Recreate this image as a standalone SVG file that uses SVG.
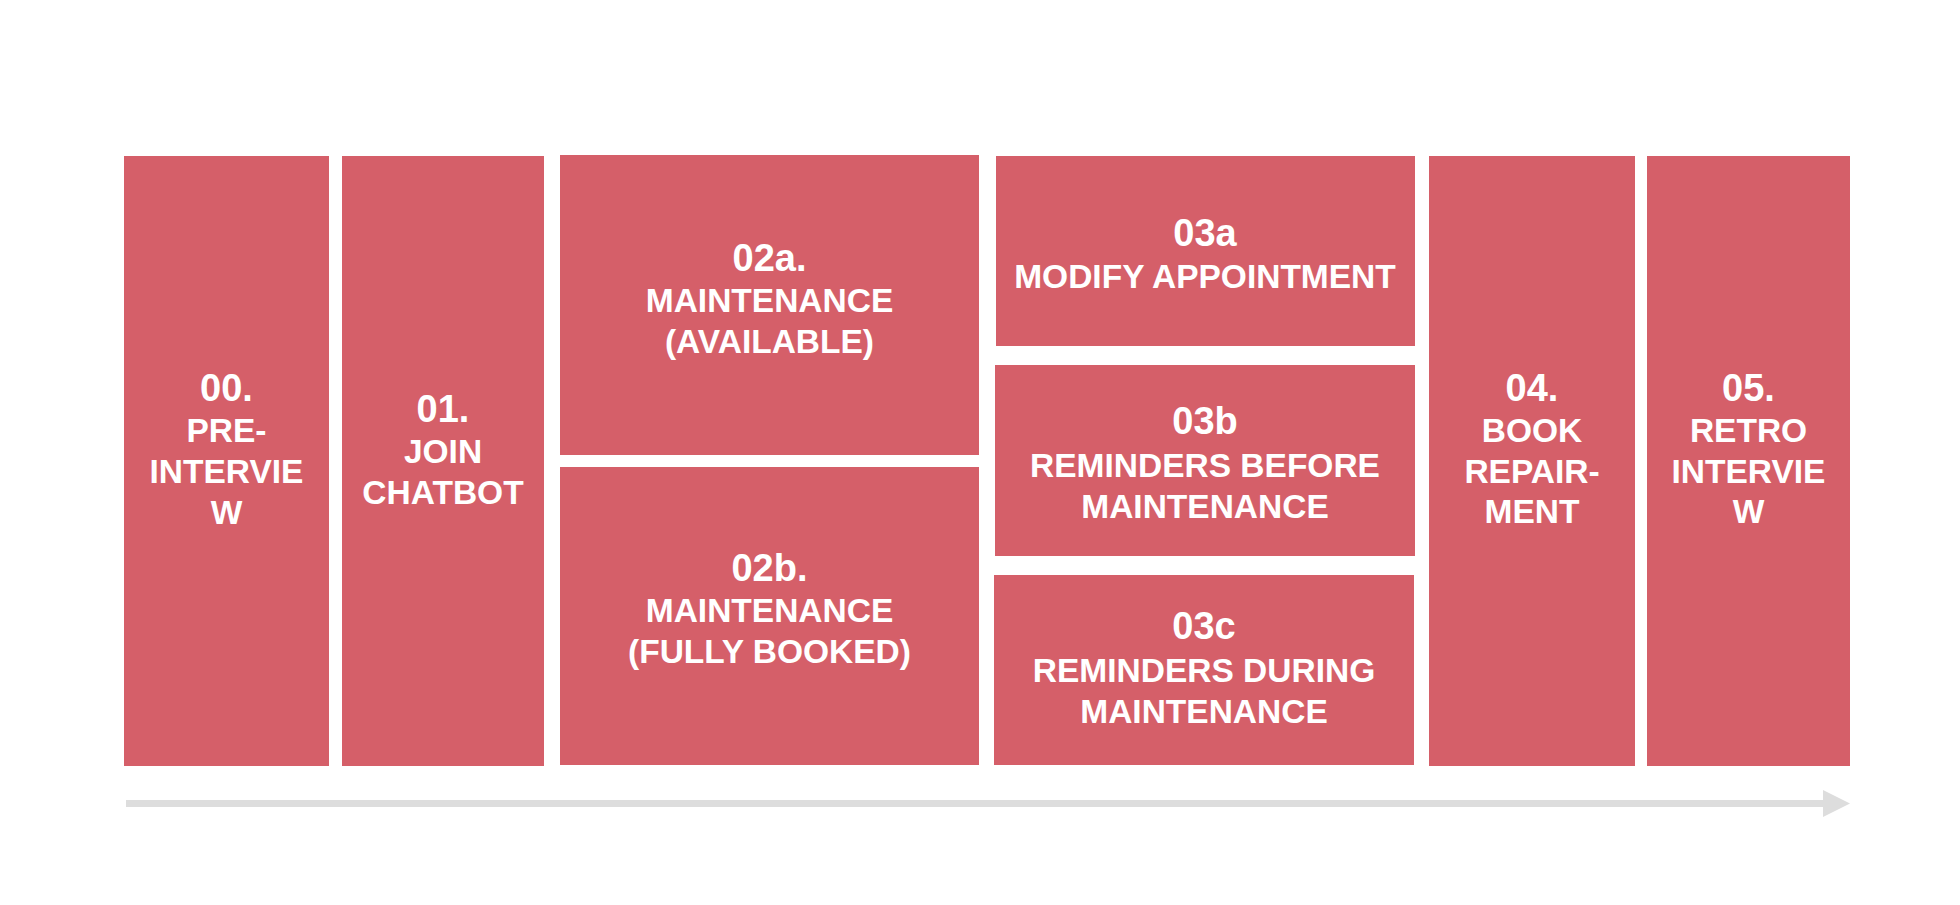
<svg xmlns="http://www.w3.org/2000/svg" width="1960" height="905" viewBox="0 0 1960 905">
<style>
.box{fill:#D55F69}
.num{font-family:"Liberation Sans",Arial,sans-serif;font-weight:bold;font-size:38px;fill:#FFFFFF;text-anchor:middle}
.lbl{font-family:"Liberation Sans",Arial,sans-serif;font-weight:bold;font-size:33.5px;fill:#FFFFFF;text-anchor:middle}
</style>
<rect width="1960" height="905" fill="#FFFFFF"/>
<g id="node-00">
<rect class="box" x="124" y="156" width="205" height="610"/>
<text class="num" x="226.5" y="401">00.</text>
<text class="lbl" x="226.5" y="442">PRE-</text>
<text class="lbl" x="226.5" y="483">INTERVIE</text>
<text class="lbl" x="226.5" y="524">W</text>
</g>
<g id="node-01">
<rect class="box" x="342" y="156" width="202" height="610"/>
<text class="num" x="443" y="422">01.</text>
<text class="lbl" x="443" y="463">JOIN</text>
<text class="lbl" x="443" y="504">CHATBOT</text>
</g>
<g id="node-02a">
<rect class="box" x="560" y="155" width="419" height="300"/>
<text class="num" x="769.5" y="271">02a.</text>
<text class="lbl" x="769.5" y="312">MAINTENANCE</text>
<text class="lbl" x="769.5" y="353">(AVAILABLE)</text>
</g>
<g id="node-02b">
<rect class="box" x="560" y="467" width="419" height="298"/>
<text class="num" x="769.5" y="581">02b.</text>
<text class="lbl" x="769.5" y="622">MAINTENANCE</text>
<text class="lbl" x="769.5" y="663">(FULLY BOOKED)</text>
</g>
<g id="node-03a">
<rect class="box" x="996" y="156" width="419" height="190"/>
<text class="num" x="1205" y="246">03a</text>
<text class="lbl" x="1205" y="288">MODIFY APPOINTMENT</text>
</g>
<g id="node-03b">
<rect class="box" x="995" y="365" width="420" height="191"/>
<text class="num" x="1205" y="434">03b</text>
<text class="lbl" x="1205" y="477">REMINDERS BEFORE</text>
<text class="lbl" x="1205" y="518">MAINTENANCE</text>
</g>
<g id="node-03c">
<rect class="box" x="994" y="575" width="420" height="190"/>
<text class="num" x="1204" y="639">03c</text>
<text class="lbl" x="1204" y="682">REMINDERS DURING</text>
<text class="lbl" x="1204" y="723">MAINTENANCE</text>
</g>
<g id="node-04">
<rect class="box" x="1429" y="156" width="206" height="610"/>
<text class="num" x="1532" y="401">04.</text>
<text class="lbl" x="1532" y="442">BOOK</text>
<text class="lbl" x="1532" y="483">REPAIR-</text>
<text class="lbl" x="1532" y="523">MENT</text>
</g>
<g id="node-05">
<rect class="box" x="1647" y="156" width="203" height="610"/>
<text class="num" x="1748.5" y="401">05.</text>
<text class="lbl" x="1748.5" y="442">RETRO</text>
<text class="lbl" x="1748.5" y="483">INTERVIE</text>
<text class="lbl" x="1748.5" y="523">W</text>
</g>
<g id="connectors">
<rect x="126" y="800" width="1698" height="7" fill="#DDDDDD"/>
<polygon points="1823,790 1850,803.5 1823,817" fill="#DDDDDD"/>
</g>
</svg>
